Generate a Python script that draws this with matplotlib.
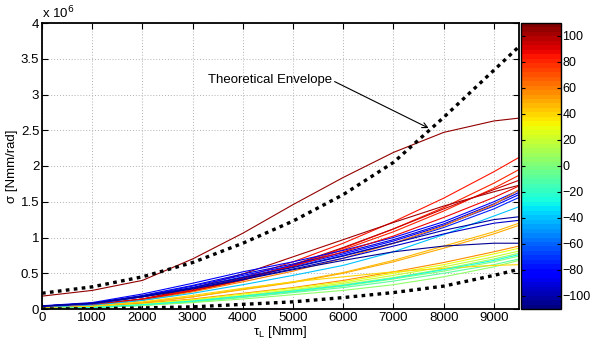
import numpy as np
import matplotlib
matplotlib.use("Agg")
import matplotlib.pyplot as plt
from matplotlib.ticker import FuncFormatter, MultipleLocator
from matplotlib.colors import Normalize

plt.rcParams['font.family'] = ['Liberation Sans', 'DejaVu Sans']

# torque grid [Nmm]
tau = [0, 1000, 2000, 3000, 4000, 5000, 6000, 7000, 8000, 9000, 9500]

# stiffness curves in units of 1e6 Nmm/rad, with colour parameter
env_upper = [0.22, 0.31, 0.45, 0.65, 0.92, 1.23, 1.60, 2.05, 2.68, 3.34, 3.67]
env_lower = [0.0, 0.004, 0.015, 0.03, 0.065, 0.10, 0.16, 0.23, 0.32, 0.47, 0.555]

curve_params = [105, 85, 82, 80, 100, 95, -85, -90, -80, -75, 60, 88,
                -40, -100, -95, 50, 45, -105, 55, 30, 20, 10, 0, -10, 5, 40, -25]

curve_values = [
    [0.18, 0.26, 0.40, 0.70, 1.06, 1.46, 1.84, 2.19, 2.47, 2.63, 2.67],
    [0.02, 0.05, 0.14, 0.27, 0.44, 0.66, 0.92, 1.22, 1.55, 1.92, 2.12],
    [0.02, 0.05, 0.13, 0.25, 0.41, 0.61, 0.85, 1.12, 1.42, 1.76, 1.95],
    [0.02, 0.05, 0.13, 0.25, 0.40, 0.60, 0.83, 1.08, 1.37, 1.69, 1.87],
    [0.03, 0.07, 0.14, 0.29, 0.49, 0.73, 0.97, 1.21, 1.44, 1.64, 1.73],
    [0.02, 0.05, 0.13, 0.25, 0.41, 0.62, 0.86, 1.12, 1.40, 1.67, 1.80],
    [0.045, 0.09, 0.21, 0.36, 0.52, 0.66, 0.82, 1.00, 1.22, 1.50, 1.66],
    [0.04, 0.08, 0.19, 0.33, 0.49, 0.63, 0.79, 0.97, 1.19, 1.47, 1.63],
    [0.04, 0.08, 0.18, 0.32, 0.47, 0.61, 0.77, 0.95, 1.17, 1.44, 1.60],
    [0.035, 0.07, 0.17, 0.30, 0.45, 0.59, 0.75, 0.92, 1.14, 1.40, 1.56],
    [0.01, 0.04, 0.12, 0.24, 0.38, 0.53, 0.71, 0.92, 1.16, 1.46, 1.67],
    [0.02, 0.05, 0.14, 0.26, 0.43, 0.60, 0.80, 1.02, 1.28, 1.56, 1.72],
    [0.02, 0.05, 0.12, 0.22, 0.34, 0.47, 0.61, 0.80, 1.04, 1.30, 1.43],
    [0.04, 0.08, 0.18, 0.30, 0.44, 0.58, 0.74, 0.92, 1.10, 1.25, 1.29],
    [0.04, 0.08, 0.17, 0.29, 0.42, 0.56, 0.71, 0.88, 1.05, 1.20, 1.24],
    [0.01, 0.03, 0.09, 0.17, 0.27, 0.37, 0.50, 0.66, 0.85, 1.05, 1.17],
    [0.01, 0.03, 0.09, 0.17, 0.28, 0.38, 0.51, 0.68, 0.88, 1.08, 1.20],
    [0.04, 0.08, 0.17, 0.28, 0.41, 0.55, 0.68, 0.80, 0.88, 0.92, 0.92],
    [0.01, 0.03, 0.08, 0.14, 0.22, 0.30, 0.40, 0.52, 0.65, 0.80, 0.88],
    [0.005, 0.025, 0.07, 0.13, 0.21, 0.29, 0.38, 0.50, 0.62, 0.77, 0.85],
    [0.005, 0.02, 0.06, 0.12, 0.19, 0.27, 0.36, 0.47, 0.59, 0.73, 0.81],
    [0.005, 0.02, 0.06, 0.11, 0.18, 0.26, 0.34, 0.44, 0.56, 0.70, 0.78],
    [0.005, 0.02, 0.05, 0.10, 0.17, 0.24, 0.32, 0.42, 0.53, 0.66, 0.74],
    [0.005, 0.02, 0.05, 0.10, 0.16, 0.23, 0.30, 0.39, 0.50, 0.62, 0.70],
    [0.005, 0.02, 0.05, 0.09, 0.14, 0.20, 0.26, 0.34, 0.45, 0.59, 0.68],
    [0.01, 0.04, 0.10, 0.19, 0.29, 0.38, 0.45, 0.52, 0.57, 0.61, 0.62],
    [0.005, 0.02, 0.06, 0.11, 0.18, 0.25, 0.33, 0.43, 0.55, 0.68, 0.76],
]

x_ticks = [0, 1000, 2000, 3000, 4000, 5000, 6000, 7000, 8000, 9000]
cbar_ticks = [-100, -80, -60, -40, -20, 0, 20, 40, 60, 80, 100]
annot_text = "Theoretical Envelope"

SCALE = 1e6
fs = 9.5

fig = plt.figure(figsize=(5.91, 3.46), dpi=100)
ax = fig.add_axes([42/591, 1-309/346, (519-42)/591, (309-23)/346])
cax = fig.add_axes([521/591, 1-309/346, 40/591, (309-23)/346])

cmap = plt.get_cmap('jet', 64)
norm = Normalize(vmin=-110, vmax=110)

t = np.array(tau)
for c, vals in zip(curve_params, curve_values):
    ax.plot(t, np.array(vals)*SCALE, color=cmap(norm(c)), lw=0.8, solid_capstyle='butt')

ax.plot(t, np.array(env_upper)*SCALE, color='black', lw=2.4, linestyle=(0, (1.1, 1.3)))
ax.plot(t, np.array(env_lower)*SCALE, color='black', lw=2.4, linestyle=(0, (1.1, 1.3)))

ax.set_xlim(0, 9500)
ax.set_ylim(0, 4e6)
ax.set_xticks(x_ticks)
ax.yaxis.set_major_locator(MultipleLocator(0.5e6))
ax.yaxis.set_major_formatter(FuncFormatter(lambda v, p: f"{v/SCALE:g}"))
ax.grid(True, color='#b0b0b0', linestyle=(0, (1, 2)), lw=0.7)
ax.tick_params(direction='in', top=True, right=True, length=4, width=0.8,
               labelsize=fs, colors='black', pad=2)
for s in ax.spines.values():
    s.set_linewidth(1.3)

ax.text(0, 1.005, "x 10$^{6}$", transform=ax.transAxes, fontsize=fs, ha='left', va='bottom')
ax.set_ylabel("σ [Nmm/rad]", fontsize=fs, labelpad=2)
ax.set_xlabel("τ$_\\mathregular{L}$ [Nmm]", fontsize=fs, labelpad=0)

ax.annotate(annot_text, xy=(7700, 2.53e6), xytext=(3300, 3.2e6),
            fontsize=fs, ha='left', va='center',
            arrowprops=dict(arrowstyle='->', color='black', lw=0.8,
                            shrinkA=0, shrinkB=0, relpos=(1.0, 0.5)))

cb = matplotlib.colorbar.ColorbarBase(cax, cmap=cmap, norm=norm, orientation='vertical')
cb.set_ticks(cbar_ticks)
cb.ax.set_yticklabels([str(v).replace('-', '\u2212') for v in cbar_ticks])
cax.tick_params(direction='in', length=3, width=0.8, labelsize=9, pad=1, left=True)
cb.outline.set_linewidth(1.0)

fig.savefig("out.png", dpi=100)
